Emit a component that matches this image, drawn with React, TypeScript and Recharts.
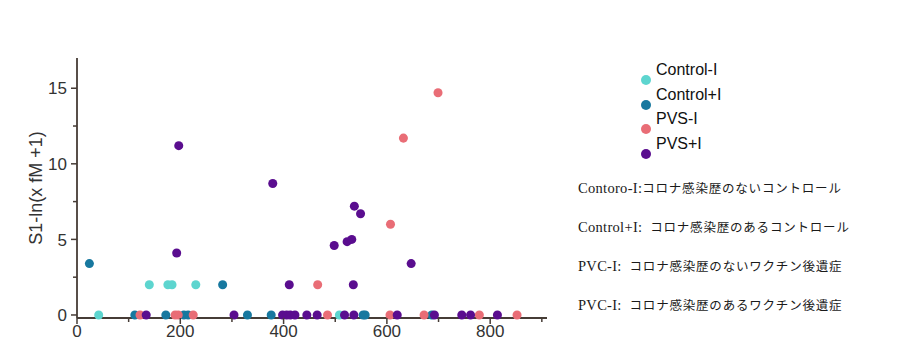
import React from 'react';
import {
  ScatterChart,
  Scatter,
  XAxis,
  YAxis,
  ZAxis,
  Legend,
} from 'recharts';

// [x, y] pairs
const controlMinusI = [[42, 0], [140, 2], [176, 2], [184, 2], [230, 2], [508, 0]];
const controlPlusI = [
  [24, 3.4], [282, 2], [112, 0], [172, 0], [207, 0], [215, 0], [330, 0], [376, 0],
  [554, 0], [558, 0], [687, 0],
];
const pvsMinusI = [
  [699, 14.7], [632, 11.7], [607, 6.0], [466, 2], [122, 0], [190, 0], [196, 0],
  [225, 0], [485, 0], [606, 0], [672, 0], [779, 0], [852, 0],
];
const pvsPlusI = [
  [197, 11.2], [379, 8.7], [193, 4.1], [537, 7.2], [549, 6.7], [498, 4.6], [523, 4.85],
  [532, 5.0], [647, 3.4], [411, 2], [535, 2], [134, 0], [304, 0], [398, 0], [406, 0],
  [413, 0], [422, 0], [445, 0], [465, 0], [518, 0], [536, 0], [620, 0], [692, 0],
  [745, 0], [762, 0], [814, 0],
];

const seriesNames = ['Control-I', 'Control+I', 'PVS-I', 'PVS+I'];
const seriesColors = ['#5dd5cf', '#17789f', '#e96d76', '#5a0d8f'];
const seriesData = [controlMinusI, controlPlusI, pvsMinusI, pvsPlusI];

const xTicks = [0, 100, 200, 300, 400, 500, 600, 700, 800, 900];
const yTicks = [0, 2.5, 5, 7.5, 10, 12.5, 15];

// note lines: latin label + japanese description
const noteLabels = ['Contoro-I:', 'Control+I:  ', 'PVC-I:  ', 'PVC-I:  '];
const noteTexts = [
  'コロナ感染歴のないコントロール',
  'コロナ感染歴のあるコントロール',
  'コロナ感染歴のないワクチン後遺症',
  'コロナ感染歴のあるワクチン後遺症',
];

const AXIS = '#463c36';
const SANS = "'Liberation Sans', Arial, sans-serif";
const TICK_SIZE = 6;
const TICK_MARGIN = 4;

const YTick = (props: any) => {
  const { x, y, payload } = props;
  const axisX = x + TICK_SIZE + TICK_MARGIN;
  const major = payload.value % 5 === 0;
  return (
    <g>
      <line x1={axisX - (major ? 6 : 4)} x2={axisX} y1={y} y2={y} stroke={AXIS} strokeWidth={1.5} />
      {major && (
        <text x={x} y={y} dy="0.36em" textAnchor="end" fontSize={17} fontFamily={SANS} fill="#333">
          {payload.value}
        </text>
      )}
    </g>
  );
};

const XTick = (props: any) => {
  const { x, y, payload } = props;
  const axisY = y - 5 - 2;
  const major = payload.value % 200 === 0;
  return (
    <g>
      <line x1={x} x2={x} y1={axisY} y2={axisY + (major ? 6 : 4)} stroke={AXIS} strokeWidth={1.5} />
      {major && (
        <text x={x} y={y} dy="0.72em" textAnchor="middle" fontSize={17} fontFamily={SANS} fill="#333">
          {payload.value}
        </text>
      )}
    </g>
  );
};

// keep the series order of the original legend
const LegendContent = ({ payload }: any) => {
  const items = [...(payload || [])].sort(
    (a: any, b: any) => seriesNames.indexOf(a.value) - seriesNames.indexOf(b.value)
  );
  return (
    <div style={{ fontFamily: SANS, fontSize: 16, color: '#111' }}>
      {items.map((entry: any) => (
        <div key={entry.value} style={{ position: 'relative', height: 24.5 }}>
          <span style={{ position: 'absolute', left: 16, top: 0, lineHeight: '20px' }}>{entry.value}</span>
          <span
            style={{
              position: 'absolute',
              left: 1,
              top: 15,
              width: 10,
              height: 10,
              borderRadius: 5,
              background: entry.color,
            }}
          />
        </div>
      ))}
    </div>
  );
};

export default function App() {
  return (
    <div style={{ position: 'absolute', left: 0, top: 0, width: 900, height: 362, background: '#fff' }}>
      <ScatterChart width={900} height={362} margin={{ top: 58, right: 353, bottom: 14, left: 0 }}>
        <XAxis
          type="number"
          dataKey="x"
          domain={[0, 910]}
          ticks={xTicks}
          interval={0}
          height={30}
          tickSize={5}
          tickMargin={2}
          tickLine={false}
          axisLine={{ stroke: AXIS, strokeWidth: 1.8 }}
          tick={<XTick />}
        />
        <YAxis
          type="number"
          dataKey="y"
          domain={[-0.2, 17]}
          ticks={yTicks}
          interval={0}
          width={77}
          tickSize={TICK_SIZE}
          tickMargin={TICK_MARGIN}
          tickLine={false}
          axisLine={{ stroke: AXIS, strokeWidth: 1.8 }}
          tick={<YTick />}
          label={{
            value: 'S1-ln(x fM +1)',
            angle: -90,
            position: 'center',
            dx: -3,
            style: { fontFamily: SANS, fontSize: 18, fill: '#333' },
          }}
        />
        <ZAxis range={[64, 64]} />
        <Legend
          verticalAlign="middle"
          align="center"
          layout="vertical"
          content={<LegendContent />}
          wrapperStyle={{ position: 'absolute', left: 640, top: 60, width: 120 }}
        />
        {seriesData.map((pts, i) => (
          <Scatter
            key={seriesNames[i]}
            name={seriesNames[i]}
            data={pts.map(([x, y]) => ({ x, y }))}
            fill={seriesColors[i]}
            isAnimationActive={false}
          />
        ))}
      </ScatterChart>
      <div
        style={{
          position: 'absolute',
          left: 578,
          top: 169,
          fontFamily: "'Liberation Serif', 'Noto Sans CJK JP', serif",
          color: '#1a1a1a',
          lineHeight: '38px',
          whiteSpace: 'pre',
        }}
      >
        {noteLabels.map((label, i) => (
          <div key={i}>
            <span style={{ fontSize: 14.5, letterSpacing: 0.3 }}>{label}</span>
            <span style={{ fontSize: 12.5, letterSpacing: 0.8 }}>{noteTexts[i]}</span>
          </div>
        ))}
      </div>
    </div>
  );
}
